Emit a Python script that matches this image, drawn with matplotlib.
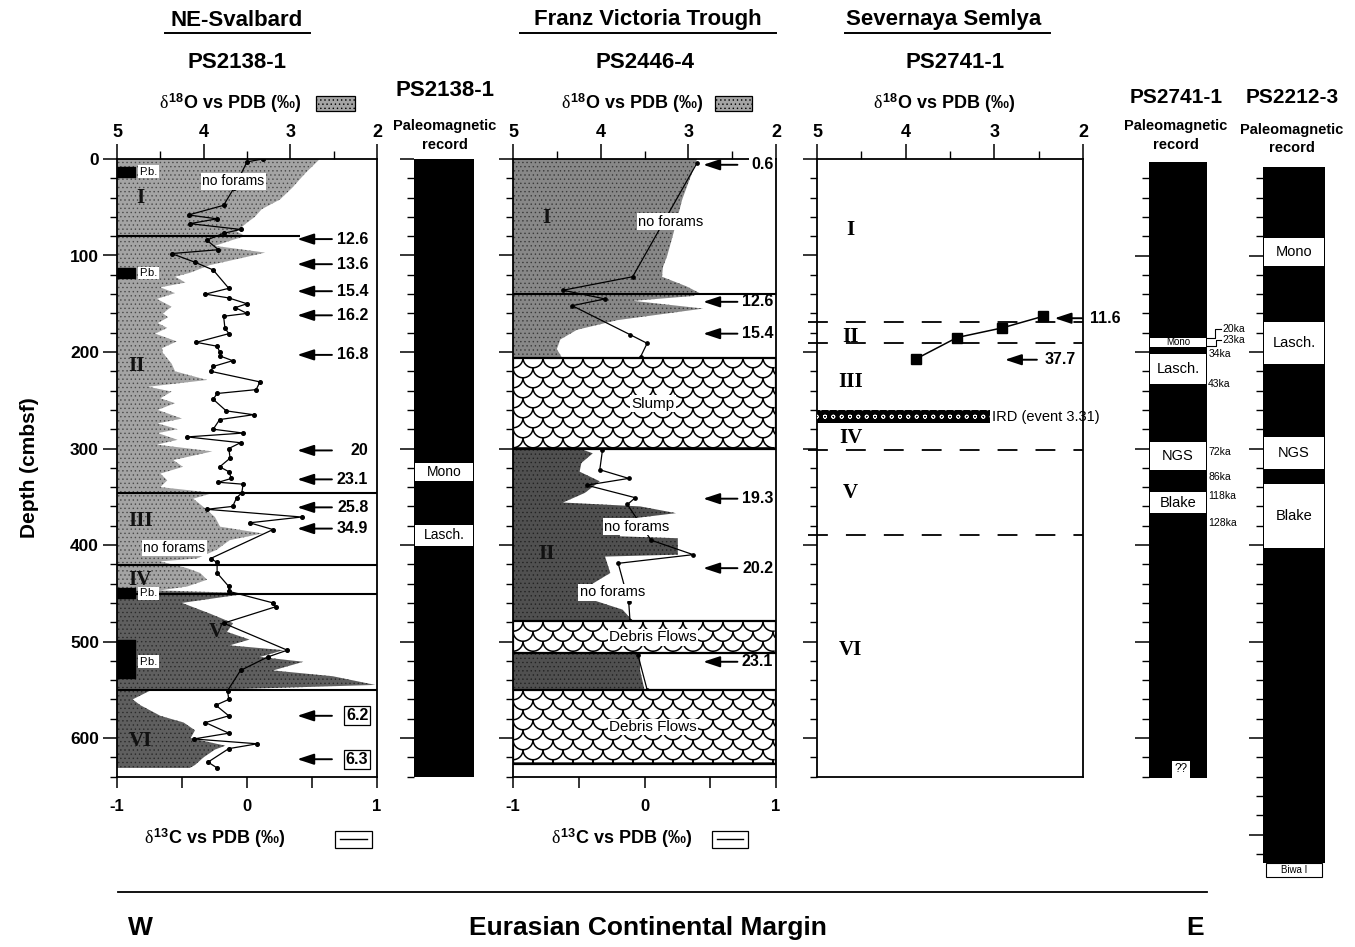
import numpy as np
import matplotlib
matplotlib.use("Agg")
import matplotlib.pyplot as plt
from matplotlib.patches import Rectangle
from matplotlib.lines import Line2D
from matplotlib.collections import LineCollection
from matplotlib.transforms import blended_transform_factory
from matplotlib.ticker import MultipleLocator

# ---------------- PS2138-1 (NE-Svalbard) ----------------
p1_o_depth = [0, 15, 30, 42, 52, 60, 66, 75, 80, 84, 90, 97, 103, 110, 118, 122, 128, 133,
              139, 145, 153, 160, 164, 170, 175, 181, 189, 196, 201, 212, 220, 229, 236, 241,
              248, 253, 260, 269, 274, 280, 284, 291, 296, 303, 312, 319, 326, 333, 340, 346,
              352, 360, 371, 381, 388, 395, 405, 414, 417, 424, 429, 436, 443, 447, 450, 460,
              471, 481, 490, 498, 504, 509, 516, 521, 530, 536, 545, 549, 551, 560, 566, 577,
              584, 592, 600, 608, 612, 620, 628, 631]
p1_o = [2.66, 2.83, 2.98, 3.12, 3.33, 3.41, 3.50, 3.62, 3.52, 3.67, 3.87, 3.29, 3.58, 3.93,
        4.16, 4.33, 4.21, 4.50, 4.33, 4.54, 4.37, 4.47, 4.41, 4.53, 4.42, 4.56, 4.31, 4.48,
        4.47, 4.37, 4.33, 3.96, 4.64, 4.37, 4.50, 4.33, 4.53, 4.25, 4.53, 4.30, 4.53, 4.30,
        4.54, 3.90, 4.35, 4.24, 4.50, 4.42, 4.50, 3.89, 4.12, 4.01, 3.87, 3.81, 3.32, 3.70,
        3.85, 4.08, 4.50, 4.19, 4.04, 3.96, 4.19, 4.50, 3.47, 4.25, 3.93, 3.66, 3.73, 3.47,
        3.70, 3.08, 3.35, 2.85, 3.20, 2.51, 2.02, 3.50, 4.62, 4.82, 4.73, 4.50, 4.23, 4.10,
        4.15, 3.75, 3.87, 4.00, 4.10, 4.16]
p1_c_depth = [0, 3, 30, 48, 58, 62, 67, 73, 77, 84, 94, 98, 107, 115, 134, 140, 144, 150, 154,
              160, 163, 175, 181, 190, 194, 200, 204, 209, 215, 220, 231, 239, 243, 249, 261,
              265, 270, 280, 284, 288, 294, 300, 310, 319, 324, 331, 335, 337, 346, 351, 360,
              363, 371, 377, 384, 414, 418, 429, 443, 448, 460, 464, 481, 509, 516, 530, 551,
              560, 566, 577, 584, 595, 601, 606, 611, 625, 631]
p1_c = [0.12, 0.00, -0.10, -0.18, -0.45, -0.23, -0.44, -0.05, -0.18, -0.31, -0.22, -0.58,
        -0.40, -0.26, -0.14, -0.32, -0.14, 0.00, -0.09, 0.00, -0.18, -0.17, -0.14, -0.39,
        -0.23, -0.21, -0.21, -0.11, -0.26, -0.28, 0.10, 0.07, -0.23, -0.26, -0.16, 0.05,
        -0.21, -0.26, -0.03, -0.46, -0.05, -0.14, -0.13, -0.21, -0.14, -0.12, -0.22, -0.03,
        -0.04, -0.08, -0.11, -0.31, 0.42, 0.02, 0.20, -0.28, -0.23, -0.23, -0.14, -0.14,
        0.20, 0.22, -0.18, 0.31, 0.16, -0.05, -0.15, -0.14, -0.24, -0.14, -0.32, -0.14,
        -0.41, 0.08, -0.14, -0.30, -0.23]
p1_ages = ['12.6', '13.6', '15.4', '16.2', '16.8', '20', '23.1', '25.8', '34.9', '6.2', '6.3']
p1_age_depth = [83, 109, 137, 162, 203, 302, 332, 361, 383, 577, 622]
p1_boundaries = [80, 346, 421, 451, 550]
p1_units = ['I', 'II', 'III', 'IV', 'V', 'VI']
p1_unit_depth = [40, 214, 375, 436, 490, 603]
p1_pb_depth = [13, 118, 450, 521]
p1_black_top = [8, 113, 445, 498]
p1_black_bot = [19, 123, 455, 538]
p1_noforam_depth = [23, 403]

# paleomagnetic record PS2138-1
pm1_events = ['Mono', 'Lasch.']
pm1_top = [315, 379]
pm1_bot = [334, 401]

# ---------------- PS2446-4 (Franz Victoria Trough) ----------------
p2_o_depth = [0, 42, 77, 100, 112, 122, 132, 139, 142, 147, 155, 167, 177, 187, 197, 206,
              301, 305, 315, 324, 334, 346, 356, 360, 367, 374, 391, 393, 410, 412, 429, 440,
              457, 467, 479, 512, 530, 550]
p2_o = [2.90, 3.07, 3.17, 3.24, 3.29, 3.30, 3.02, 2.87, 2.95, 3.63, 2.83, 3.81, 4.27, 4.46,
        4.50, 4.44, 4.21, 4.09, 4.22, 4.24, 4.01, 4.18, 4.43, 3.55, 3.14, 3.78, 3.78, 3.12,
        3.12, 3.95, 3.89, 4.09, 4.09, 3.75, 3.63, 3.55, 3.55, 3.50]
p2_c_depth = [4, 122, 136, 145, 152, 182, 191, 205, np.nan, 302, 322, 331, 338, 351, 358,
              395, 410, 419, 459, 479, np.nan, 514, 550]
p2_c = [0.40, -0.09, -0.62, -0.30, -0.55, -0.11, 0.02, -0.03, np.nan, -0.32, -0.34, -0.12,
        -0.44, -0.07, -0.13, 0.05, 0.37, -0.20, -0.12, -0.11, np.nan, -0.05, 0.02]
p2_ages = ['0.6', '12.6', '15.4', '19.3', '20.2', '23.1']
p2_age_depth = [6, 148, 181, 352, 424, 521]
p2_layers = ['Slump', 'Debris Flows', 'Debris Flows']
p2_layer_top = [206, 479, 550]
p2_layer_bot = [301, 512, 627]
p2_units = ['I', 'II']
p2_unit_depth = [61, 409]
p2_noforam_depth = [65, 381, 449]

# ---------------- PS2741-1 (Severnaya Semlya) ----------------
p3_o_depth = [163, 175, 185, 207]
p3_o = [2.45, 2.91, 3.42, 3.88]
p3_ages = ['11.6', '37.7']
p3_age_depth = [165, 208]
p3_boundaries = [169, 191, 302, 390]
p3_units = ['I', 'II', 'III', 'IV', 'V', 'VI']
p3_unit_depth = [74, 184, 231, 289, 346, 509]
p3_ird = (260, 274)

# paleomagnetic record PS2741-1
pm2_events = ['Mono', 'Lasch.', 'NGS', 'Blake']
pm2_top = [185, 202, 293, 345]
pm2_bot = [195, 233, 322, 367]
pm2_ka = ['20ka', '23ka', '34ka', '43ka', '72ka', '86ka', '118ka', '128ka']
pm2_ka_depth = [176, 188, 202, 233, 304, 330, 349, 377]

# paleomagnetic record PS2212-3
pm3_events = ['Mono', 'Lasch.', 'NGS', 'Blake']
pm3_top = [82, 169, 288, 337]
pm3_bot = [111, 212, 321, 403]

# ---------------- styling ----------------
plt.rcParams['font.family'] = ['Liberation Sans', 'DejaVu Sans']
plt.rcParams['mathtext.fontset'] = 'custom'
plt.rcParams['mathtext.rm'] = 'Liberation Sans:bold'
plt.rcParams['mathtext.bf'] = 'Liberation Sans:bold'
plt.rcParams['mathtext.it'] = 'Liberation Serif'
plt.rcParams['axes.unicode_minus'] = False
plt.rcParams['hatch.linewidth'] = 0.5

W, H = 1355, 947
TOP, SCALE = 159.0, 0.965      # pixel row of depth 0, pixels per cm

fig = plt.figure(figsize=(W / 100, H / 100), dpi=100)


def fx(x):
    return x / W


def fy(y):
    return 1 - y / H


def ftext(x, y, s, **kw):
    kw.setdefault('ha', 'center')
    kw.setdefault('va', 'center')
    return fig.text(fx(x), fy(y), s, **kw)


def depth_axes(x0, x1, d0, d1):
    yt = TOP + SCALE * d0
    yb = TOP + SCALE * d1
    ax = fig.add_axes([fx(x0), fy(yb), fx(x1 - x0), (yb - yt) / H])
    ax.set_ylim(d1, d0)
    ax.yaxis.set_major_locator(MultipleLocator(100))
    ax.yaxis.set_minor_locator(MultipleLocator(20))
    ax.tick_params(axis='y', which='major', direction='out', length=10, width=1.1, labelleft=False)
    ax.tick_params(axis='y', which='minor', direction='out', length=5, width=1)
    return ax


def iso_axes(x0, x1, c13=True):
    ax = depth_axes(x0, x1, 0, 640)
    axc = None
    if c13:
        axc = ax.twiny()
    ax.set_xlim(5, 2)
    ax.set_xticks([5, 4, 3, 2])
    ax.set_xticks([4.5, 3.5, 2.5], minor=True)
    ax.xaxis.set_ticks_position('top')
    ax.xaxis.set_label_position('top')
    ax.tick_params(axis='x', which='both', top=True, bottom=False, labeltop=True,
                   labelbottom=False, direction='out')
    ax.tick_params(axis='x', which='major', length=11, width=1.1, labelsize=13, pad=2)
    ax.tick_params(axis='x', which='minor', length=6, width=1)
    for t in ax.get_xticklabels():
        t.set_fontweight('bold')
    for s in ax.spines.values():
        s.set_linewidth(1.3)
    if c13:
        axc.set_xlim(-1, 1)
        axc.xaxis.set_ticks_position('bottom')
        axc.set_xticks([-1, 0, 1])
        axc.set_xticks([-0.5, 0.5], minor=True)
        axc.tick_params(axis='x', which='both', top=False, bottom=True, labeltop=False,
                        labelbottom=True, direction='out')
        axc.tick_params(axis='x', which='major', length=8, width=1.1, labelsize=12, pad=8)
        axc.tick_params(axis='x', which='minor', length=8, width=1.1)
        for t in axc.get_xticklabels():
            t.set_fontweight('bold')
        for s in axc.spines.values():
            s.set_visible(False)
    return ax, axc


def arrow(host, tr, xh, xt, d, label, xl, ha='right', boxed=False, blank=False):
    host.annotate('', xy=(xh, d), xytext=(xt, d), xycoords=tr, textcoords=tr,
                  arrowprops=dict(arrowstyle='-|>,head_length=1.0,head_width=0.33',
                                  color='black', lw=1.4, shrinkA=0, shrinkB=0),
                  annotation_clip=False, zorder=8)
    bbox = None
    if boxed:
        bbox = dict(facecolor='white', edgecolor='black', lw=0.9, pad=1.5)
    elif blank:
        bbox = dict(facecolor='white', edgecolor='none', pad=1.5)
    host.text(xl, d, label, transform=tr, ha=ha, va='center', fontsize=11.5,
              fontweight='bold', bbox=bbox, zorder=9, clip_on=False)


def white_label(host, tr, x, d, s, fs=10, ha='center'):
    host.text(x, d, s, transform=tr, ha=ha, va='center', fontsize=fs, zorder=9,
              bbox=dict(facecolor='white', edgecolor='none', pad=1.0))


def scale_pattern(ax, tr_label, d0, d1, label):
    # white layer with a scalloped (fish-scale) fill, drawn in axes-x / depth coordinates
    tr = blended_transform_factory(ax.transAxes, ax.transData)
    ax.add_patch(Rectangle((0, d0), 1, d1 - d0, transform=tr, facecolor='white',
                           edgecolor='none', zorder=5))
    wpx = ax.get_position().width * W
    w = 20.0 / wpx
    h = 10.0 / SCALE
    th = np.linspace(0, np.pi, 19)
    segs = []
    nrow = int((d1 - d0) / h) + 2
    ncol = int(1 / w) + 2
    for r in range(-1, nrow):
        yc = d0 + r * h
        off = 0.5 * w * (r % 2)
        for k in range(-1, ncol):
            xs = k * w + off + 0.5 * w * np.cos(th)
            ys = yc + h * np.sin(th)
            keep = (xs >= 0) & (xs <= 1) & (ys >= d0) & (ys <= d1)
            if keep.sum() >= 2:
                segs.append(np.column_stack([xs[keep], ys[keep]]))
    ax.add_collection(LineCollection(segs, colors='black', linewidths=1.1, transform=tr,
                                     zorder=6))
    ax.add_patch(Rectangle((0, d0), 1, d1 - d0, transform=tr, facecolor='none',
                           edgecolor='black', lw=1.6, zorder=7))
    white_label(ax, tr_label, 3.4, (d0 + d1) / 2, label, fs=11)


def pm_column(x0, x1, d0, d1, names, tops, bots, fs=10):
    ax = depth_axes(x0, x1, d0, d1)
    ax.set_xlim(0, 1)
    ax.set_xticks([])
    for s in ax.spines.values():
        s.set_visible(False)
    ax.add_patch(Rectangle((0, d0), 1, d1 - d0, facecolor='black', edgecolor='none'))
    for n, t, b in zip(names, tops, bots):
        ax.add_patch(Rectangle((0.02, t), 0.96, b - t, facecolor='white', edgecolor='none'))
        size = 7 if (b - t) < 14 else fs
        ax.text(0.5, (t + b) / 2, n, ha='center', va='center', fontsize=size)
    return ax


GRAY_HATCH = '....'

# ================= panel 1: PS2138-1 isotopes =================
ax1, ax1c = iso_axes(117, 377)
d1 = np.array(p1_o_depth)
ax1.fill_betweenx(d1, 5, p1_o, where=d1 <= 450, facecolor='#a4a4a4', edgecolor='#4a4a4a',
                  hatch=GRAY_HATCH, linewidth=0, interpolate=True, zorder=1)
ax1.fill_betweenx(d1, 5, p1_o, where=d1 >= 450, facecolor='#5f5f5f', edgecolor='#2a2a2a',
                  hatch=GRAY_HATCH, linewidth=0, interpolate=True, zorder=1)
for t, b in zip(p1_black_top, p1_black_bot):
    ax1.fill_betweenx([t, b], 5, 4.79, color='black', zorder=2)
ax1.hlines(p1_boundaries[0], 5, 2.89, color='black', lw=1.5, zorder=3)
ax1.hlines(p1_boundaries[1:], 5, 2, color='black', lw=1.5, zorder=3)
unit_x1 = [4.73, 4.77, 4.73, 4.73, 3.85, 4.73]
for u, d, x in zip(p1_units, p1_unit_depth, unit_x1):
    ax1.text(x, d, u, family='Liberation Serif', fontweight='bold', fontsize=15,
             ha='center', va='center', zorder=4, color='#111111')
ax1c.plot(p1_c, p1_c_depth, color='black', lw=0.9, marker='o', ms=2.6, zorder=5)
for d in p1_pb_depth:
    white_label(ax1c, ax1.transData, 4.64, d, 'P.b.', fs=8)
white_label(ax1c, ax1.transData, 3.66, p1_noforam_depth[0], 'no forams', fs=10)
white_label(ax1c, ax1.transData, 4.34, p1_noforam_depth[1], 'no forams', fs=10)
for i, (lab, d) in enumerate(zip(p1_ages, p1_age_depth)):
    arrow(ax1c, ax1.transData, 2.92, 2.52, d, lab, 2.10, boxed=(i >= 9))
ax1.set_yticks(range(0, 601, 100))
ax1.tick_params(axis='y', labelleft=True, labelsize=12.5, pad=3)
for t in ax1.get_yticklabels():
    t.set_fontweight('bold')

# ================= paleomag column PS2138-1 =================
pm_column(414, 474, 0, 640, pm1_events, pm1_top, pm1_bot, fs=10)

# ================= panel 2: PS2446-4 isotopes =================
ax2, ax2c = iso_axes(513, 776)
d2 = np.array(p2_o_depth)
ax2.fill_betweenx(d2, 5, p2_o, where=d2 <= 206, facecolor='#888888', edgecolor='#3a3a3a',
                  hatch=GRAY_HATCH, linewidth=0, interpolate=True, zorder=1)
ax2.fill_betweenx(d2, 5, p2_o, where=d2 >= 301, facecolor='#505050', edgecolor='#222222',
                  hatch=GRAY_HATCH, linewidth=0, interpolate=True, zorder=1)
ax2.hlines([140], 5, 2, color='black', lw=1.5, zorder=3)
ax2c.plot(p2_c, p2_c_depth, color='black', lw=0.9, marker='o', ms=2.4, zorder=4)
for name, t, b in zip(p2_layers, p2_layer_top, p2_layer_bot):
    scale_pattern(ax2c, ax2.transData, t, b, name)
for u, d in zip(p2_units, p2_unit_depth):
    ax2.text(4.62, d, u, family='Liberation Serif', fontweight='bold', fontsize=15,
             ha='center', va='center', zorder=4, color='#111111')
white_label(ax2c, ax2.transData, 3.2, p2_noforam_depth[0], 'no forams', fs=10.5)
white_label(ax2c, ax2.transData, 3.96, p2_noforam_depth[1], 'no forams', fs=10.5, ha='left')
white_label(ax2c, ax2.transData, 4.24, p2_noforam_depth[2], 'no forams', fs=10.5, ha='left')
for i, (lab, d) in enumerate(zip(p2_ages, p2_age_depth)):
    arrow(ax2c, ax2.transData, 2.83, 2.44, d, lab, 2.03, blank=(i == 0))

# ================= panel 3: PS2741-1 isotopes =================
ax3, _ = iso_axes(817, 1083, c13=False)
ax3.plot(p3_o, p3_o_depth, color='black', lw=1.1, marker='s', ms=6.5, zorder=4)
ax3.hlines(p3_boundaries, 5.1, 2, color='black', lw=1.3, linestyles=(0, (11, 10)),
           clip_on=False, zorder=3)
for u, d in zip(p3_units, p3_unit_depth):
    ax3.text(4.62, d, u, family='Liberation Serif', fontweight='bold', fontsize=15,
             ha='center', va='center', zorder=4)
ax3.fill_betweenx(list(p3_ird), 5, 3.05, facecolor='black', edgecolor='white',
                  hatch='oo', linewidth=0, zorder=4)
ax3.text(3.03, sum(p3_ird) / 2, 'IRD (event 3.31)', fontsize=10.5, ha='left',
         va='center', zorder=5)
arrow(ax3, ax3.transData, 2.32, 2.01, p3_age_depth[0], p3_ages[0], 1.92, ha='left')
arrow(ax3, ax3.transData, 2.88, 2.52, p3_age_depth[1], p3_ages[1], 2.43, ha='left')

# ================= paleomag column PS2741-1 =================
axp2 = pm_column(1149, 1207, 3, 641, pm2_events, pm2_top, pm2_bot, fs=10.5)
axp2.add_patch(Rectangle((0.40, 624), 0.31, 17, facecolor='white', edgecolor='none'))
axp2.text(0.555, 632, '??', ha='center', va='center', fontsize=8.5)
trp = blended_transform_factory(axp2.transAxes, axp2.transData)
for lab, d in zip(pm2_ka, pm2_ka_depth):
    xk = 1.26 if lab in ('20ka', '23ka') else 1.02
    axp2.text(xk, d, lab, transform=trp, fontsize=7.5, ha='left', va='center', clip_on=False)
axp2.plot([1.0, 1.13, 1.13, 1.24], [186, 186, 176, 176], transform=trp, color='black',
          lw=0.8, clip_on=False)
axp2.plot([1.0, 1.15, 1.15, 1.24], [194, 194, 188, 188], transform=trp, color='black',
          lw=0.8, clip_on=False)

# ================= paleomag column PS2212-3 =================
pm_column(1263, 1325, 8, 730, pm3_events, pm3_top, pm3_bot, fs=10.5)
fig.add_artist(Rectangle((fx(1266), fy(877)), fx(56), 14 / H, transform=fig.transFigure,
                         facecolor='white', edgecolor='black', lw=0.8))
ftext(1294, 870, 'Biwa I', fontsize=7)

# ================= titles and legends =================
for x, s, x0, x1 in [(237, 'NE-Svalbard', 165, 310), (648, 'Franz Victoria Trough', 520, 776),
                     (944, 'Severnaya Semlya', 845, 1050)]:
    ftext(x, 20, s, fontsize=16, fontweight='bold')
    fig.add_artist(Line2D([fx(x0), fx(x1)], [fy(33), fy(33)], transform=fig.transFigure,
                          color='black', lw=1.4))
ftext(237, 62, 'PS2138-1', fontsize=16, fontweight='bold')
ftext(645, 62, 'PS2446-4', fontsize=16, fontweight='bold')
ftext(955, 62, 'PS2741-1', fontsize=16, fontweight='bold')
o18 = r'$\delta^{\mathbf{18}}$O vs PDB (‰)'
c13 = r'$\delta^{\mathbf{13}}$C vs PDB (‰)'
ftext(230, 103, o18, fontsize=13, fontweight='bold')
ftext(632, 103, o18, fontsize=13, fontweight='bold')
ftext(944, 103, o18, fontsize=13, fontweight='bold')
for x0, x1 in [(316, 355), (715, 752)]:
    fig.add_artist(Rectangle((fx(x0), fy(111)), fx(x1 - x0), 15 / H, transform=fig.transFigure,
                             facecolor='#a4a4a4', edgecolor='black', lw=0.9, hatch=GRAY_HATCH))
ftext(215, 838, c13, fontsize=13, fontweight='bold')
ftext(622, 838, c13, fontsize=13, fontweight='bold')
for x0, x1 in [(335, 372), (712, 748)]:
    fig.add_artist(Rectangle((fx(x0), fy(848)), fx(x1 - x0), 17 / H, transform=fig.transFigure,
                             facecolor='white', edgecolor='black', lw=0.9))
    fig.add_artist(Line2D([fx(x0 + 5), fx(x1 - 5)], [fy(839), fy(839)],
                          transform=fig.transFigure, color='black', lw=1))

ftext(445, 90, 'PS2138-1', fontsize=16, fontweight='bold')
ftext(445, 126, 'Paleomagnetic', fontsize=10.5, fontweight='bold')
ftext(445, 145, 'record', fontsize=10.5, fontweight='bold')
ftext(1176, 97, 'PS2741-1', fontsize=15, fontweight='bold')
ftext(1176, 126, 'Paleomagnetic', fontsize=10.5, fontweight='bold')
ftext(1176, 145, 'record', fontsize=10.5, fontweight='bold')
ftext(1292, 97, 'PS2212-3', fontsize=15, fontweight='bold')
ftext(1292, 130, 'Paleomagnetic', fontsize=10.5, fontweight='bold')
ftext(1292, 148, 'record', fontsize=10.5, fontweight='bold')

ftext(30, 468, 'Depth (cmbsf)', fontsize=15, fontweight='bold', rotation=90)

fig.add_artist(Line2D([fx(118), fx(1207)], [fy(892), fy(892)], transform=fig.transFigure,
                      color='black', lw=1.3))
ftext(140, 928, 'W', fontsize=19, fontweight='bold')
ftext(648, 928, 'Eurasian Continental Margin', fontsize=19, fontweight='bold')
ftext(1195, 928, 'E', fontsize=19, fontweight='bold')

fig.savefig('out.png', dpi=100, facecolor='white')
